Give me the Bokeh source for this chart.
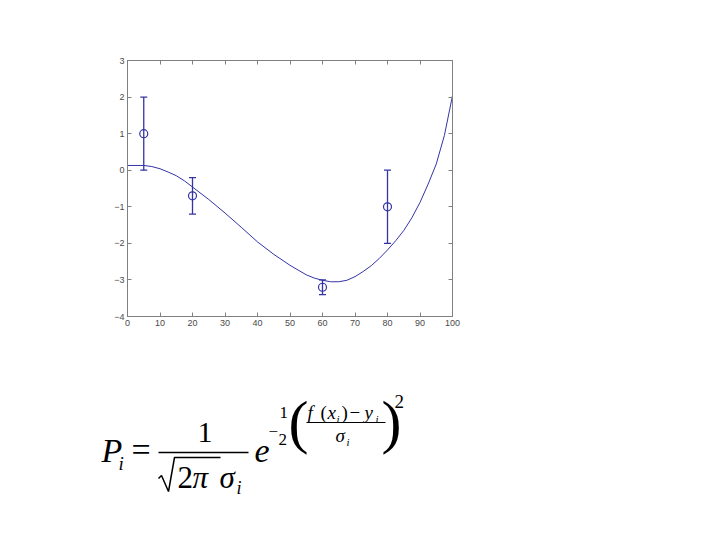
from bokeh.plotting import figure
from bokeh.models import Range1d, FixedTicker, LinearAxis, Whisker, TeeHead, ColumnDataSource
from bokeh.layouts import column
from bokeh.embed import file_html
from bokeh.resources import INLINE
from bokeh.core.properties import value

# ---- data ----
pt_x = [5, 20, 60, 80]
pt_y = [1.0, -0.7, -3.2, -1.0]
err_lo = [0.0, -1.2, -3.4, -2.0]
err_hi = [2.0, -0.2, -3.0, 0.0]

fit_x = [0, 5, 7.5, 10, 12.5, 15, 17.5, 20, 25, 30, 35, 40, 45, 50, 55, 57.5, 60, 62.5, 65,
         67.5, 70, 72.5, 75, 77.5, 80, 82.5, 85, 87.5, 90, 92.5, 95, 97.5, 100]
fit_y = [0.13, 0.13, 0.10, 0.04, -0.05, -0.15, -0.29, -0.46, -0.80, -1.17, -1.56, -1.96,
         -2.30, -2.60, -2.86, -2.95, -3.01, -3.05, -3.05, -3.01, -2.91, -2.77, -2.61, -2.41,
         -2.18, -1.93, -1.65, -1.30, -0.88, -0.38, 0.17, 0.95, 2.04]

x_ticks = list(range(0, 101, 10))
y_ticks = list(range(-4, 4))

BLUE = "#3434a6"
GRAY = "#808080"
LABEL = "#4a4a4a"

# ---- chart ----
p = figure(width=704, height=340, output_backend="svg", toolbar_location=None,
           x_range=Range1d(0, 100), y_range=Range1d(-4, 3),
           min_border_left=127, min_border_right=252, min_border_top=60, min_border_bottom=24)
p.frame_align = False
p.grid.visible = False
p.outline_line_color = GRAY
p.background_fill_color = "white"
p.border_fill_color = "white"

for ax, tks in ((p.xaxis[0], x_ticks), (p.yaxis[0], y_ticks)):
    ax.ticker = FixedTicker(ticks=tks)
    ax.axis_line_color = GRAY
    ax.major_tick_line_color = GRAY
    ax.major_tick_in = 4
    ax.major_tick_out = 0
    ax.minor_tick_line_color = None
    ax.major_label_text_font = "Liberation Sans"
    ax.major_label_text_font_size = "9px"
    ax.major_label_text_color = LABEL
    ax.major_label_standoff = 3

top = LinearAxis(ticker=FixedTicker(ticks=x_ticks), major_label_text_color=None,
                 axis_line_color=GRAY, major_tick_line_color=GRAY, major_tick_in=4,
                 major_tick_out=0, minor_tick_line_color=None, major_label_standoff=0)
right = LinearAxis(ticker=FixedTicker(ticks=y_ticks), major_label_text_color=None,
                   axis_line_color=GRAY, major_tick_line_color=GRAY, major_tick_in=4,
                   major_tick_out=0, minor_tick_line_color=None, major_label_standoff=0)
p.add_layout(top, "above")
p.add_layout(right, "right")

p.line(fit_x, fit_y, line_color=BLUE, line_width=1)

src = ColumnDataSource(dict(x=pt_x, y=pt_y, lo=err_lo, hi=err_hi))
wh = Whisker(base="x", lower="lo", upper="hi", source=src, line_color=BLUE, line_width=1.3,
             upper_head=TeeHead(size=7, line_color=BLUE, line_width=1.3),
             lower_head=TeeHead(size=7, line_color=BLUE, line_width=1.3))
p.add_layout(wh)
p.scatter("x", "y", source=src, marker="circle", size=8, fill_color=None,
          line_color=BLUE, line_width=1.2)

# ---- formula ----
q = figure(width=704, height=184, output_backend="svg", toolbar_location=None,
           x_range=Range1d(0, 704), y_range=Range1d(524, 340),
           x_axis_type=None, y_axis_type=None, min_border=0)
q.frame_align = False
q.outline_line_color = None
q.grid.visible = False


def t(s, x, y, size, style="normal"):
    q.text(x=[x], y=[y - 0.34 * size], text=[s], text_font=value("Liberation Serif"),
           text_font_style=style, text_font_size=f"{size}px",
           text_baseline="alphabetic", text_align="left", text_color="black")


t("P", 101, 462, 34, "italic")
t("i", 118, 469, 19, "italic")
t("=", 131, 461, 34)
t("1", 197, 442, 30)
t("2", 177, 488, 31)
t("π", 192, 488, 31, "italic")
t("σ", 219, 488, 31, "italic")
t("i", 236, 494, 18, "italic")
t("e", 254, 462, 34, "italic")
t("−", 268, 437, 17)
t("1", 279, 418, 17)
t("2", 278, 445, 17)
t("(", 288, 442, 60)
t("f", 307, 418, 19, "italic")
t("(", 320, 418, 19)
t("x", 327, 418, 19, "italic")
t("i", 336, 422, 11, "italic")
t(")", 341, 418, 19)
t("−", 349, 418, 19)
t("y", 364, 418, 19, "italic")
t("i", 375, 422, 11, "italic")
t("σ", 335, 441, 19, "italic")
t("i", 346, 445, 11, "italic")
t(")", 381, 442, 60)
t("2", 394, 407, 19)

q.line([158, 248], [452, 452], line_color="black", line_width=1.5)
q.line([158, 161, 168, 174, 220], [478, 475, 491, 457, 457], line_color="black", line_width=1.5)
q.line([306, 385], [422, 422], line_color="black", line_width=1)

lay = column(p, q, spacing=0)
open("out.html", "w").write(file_html(lay, INLINE))
